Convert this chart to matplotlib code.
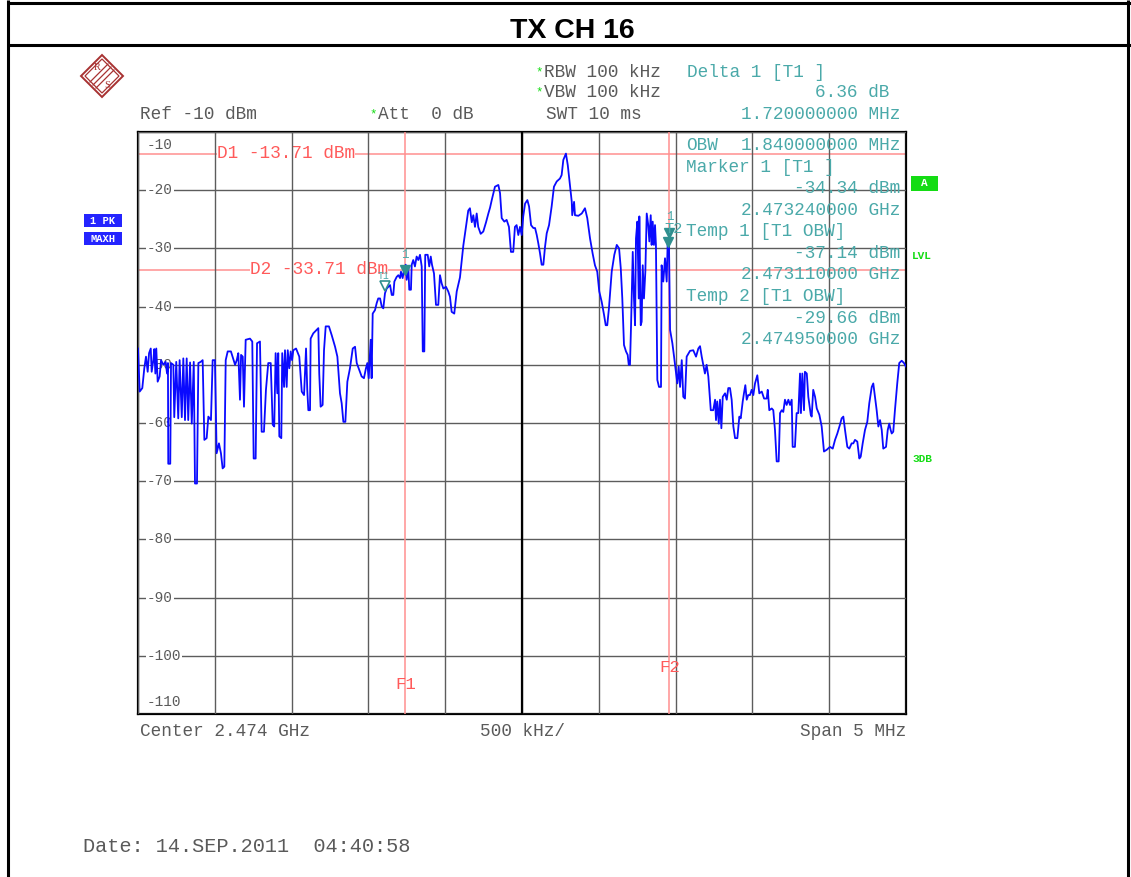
import numpy as np
import matplotlib
matplotlib.use("Agg")
import matplotlib.pyplot as plt
from matplotlib.patches import Polygon, Rectangle
import matplotlib.transforms as mtransforms

W, H = 1131, 877
MONO = ["Liberation Mono", "DejaVu Sans Mono"]
GRAY = "#5a5a5a"
CYAN = "#4aa9a9"
MARK = "#2f8f8f"
RED = "#ff5a5a"
RED_LINE = "#ff9090"
GREEN = "#14dc14"
TRACE_BLUE = "#0a0aff"

# instrument settings
CENTER_GHZ = 2.474
SPAN_MHZ = 5.0
REF_DBM = -10
RANGE_DB = 100

# max-hold trace, frequency offset from centre (MHz) and level (dBm)
trace_mhz = [
    -2.500, -2.489, -2.472, -2.459, -2.448, -2.437, -2.428, -2.417, -2.411, -2.400,
    -2.394, -2.387, -2.381, -2.372, -2.359, -2.350, -2.335, -2.320, -2.311, -2.305,
    -2.303, -2.290, -2.285, -2.270, -2.264, -2.251, -2.238, -2.229, -2.215, -2.205,
    -2.194, -2.183, -2.173, -2.161, -2.150, -2.137, -2.129, -2.116, -2.107, -2.092,
    -2.079, -2.068, -2.053, -2.042, -2.025, -2.014, -1.999, -1.988, -1.973, -1.960,
    -1.949, -1.938, -1.929, -1.916, -1.895, -1.868, -1.857, -1.847, -1.836, -1.829,
    -1.818, -1.810, -1.799, -1.771, -1.756, -1.747, -1.734, -1.725, -1.706, -1.695,
    -1.680, -1.667, -1.652, -1.636, -1.623, -1.613, -1.604, -1.593, -1.587, -1.580,
    -1.567, -1.561, -1.549, -1.543, -1.532, -1.525, -1.515, -1.506, -1.497, -1.489,
    -1.471, -1.450, -1.434, -1.419, -1.406, -1.398, -1.391, -1.380, -1.376, -1.359,
    -1.337, -1.326, -1.320, -1.311, -1.298, -1.289, -1.278, -1.257, -1.239, -1.217,
    -1.202, -1.185, -1.174, -1.163, -1.150, -1.137, -1.120, -1.102, -1.087, -1.076,
    -1.059, -1.044, -1.029, -1.016, -1.007, -0.998, -0.985, -0.979, -0.972, -0.957,
    -0.946, -0.936, -0.924, -0.913, -0.903, -0.892, -0.881, -0.870, -0.859, -0.848,
    -0.838, -0.831, -0.816, -0.805, -0.794, -0.788, -0.777, -0.768, -0.757, -0.751,
    -0.740, -0.734, -0.723, -0.718, -0.708, -0.697, -0.686, -0.675, -0.664, -0.653,
    -0.646, -0.636, -0.630, -0.614, -0.604, -0.594, -0.586, -0.573, -0.560, -0.545,
    -0.534, -0.523, -0.512, -0.495, -0.480, -0.469, -0.458, -0.441, -0.425, -0.404,
    -0.382, -0.371, -0.360, -0.350, -0.339, -0.327, -0.317, -0.306, -0.295, -0.285,
    -0.269, -0.252, -0.234, -0.219, -0.208, -0.197, -0.176, -0.154, -0.143, -0.132,
    -0.115, -0.100, -0.085, -0.072, -0.057, -0.046, -0.035, -0.024, -0.013, -0.002,
    0.008, 0.020, 0.035, 0.046, 0.059, 0.074, 0.085, 0.096, 0.106, 0.117,
    0.128, 0.139, 0.150, 0.161, 0.176, 0.193, 0.208, 0.226, 0.247, 0.258,
    0.269, 0.286, 0.298, 0.313, 0.324, 0.327, 0.339, 0.345, 0.367, 0.389,
    0.410, 0.425, 0.443, 0.460, 0.475, 0.490, 0.503, 0.519, 0.534, 0.545,
    0.555, 0.566, 0.584, 0.601, 0.617, 0.632, 0.643, 0.653, 0.664, 0.677,
    0.688, 0.695, 0.703, 0.710, 0.721, 0.729, 0.736, 0.742, 0.751, 0.760,
    0.764, 0.773, 0.779, 0.786, 0.794, 0.803, 0.812, 0.822, 0.829, 0.838,
    0.844, 0.851, 0.859, 0.866, 0.872, 0.881, 0.892, 0.905, 0.909, 0.920,
    0.931, 0.942, 0.949, 0.957, 0.964, 0.979, 0.990, 1.003, 1.011, 1.020,
    1.029, 1.040, 1.050, 1.061, 1.072, 1.094, 1.115, 1.133, 1.148, 1.159,
    1.170, 1.180, 1.191, 1.202, 1.213, 1.229, 1.245, 1.257, 1.263, 1.271,
    1.281, 1.289, 1.298, 1.307, 1.322, 1.333, 1.343, 1.354, 1.365, 1.376,
    1.387, 1.402, 1.415, 1.424, 1.437, 1.445, 1.454, 1.463, 1.473, 1.484,
    1.495, 1.506, 1.517, 1.532, 1.545, 1.561, 1.576, 1.593, 1.600, 1.610,
    1.626, 1.636, 1.647, 1.658, 1.671, 1.680, 1.691, 1.701, 1.712, 1.723,
    1.734, 1.745, 1.756, 1.762, 1.777, 1.788, 1.799, 1.810, 1.816, 1.825,
    1.836, 1.842, 1.854, 1.864, 1.880, 1.886, 1.896, 1.908, 1.919, 1.936,
    1.951, 1.966, 1.984, 2.005, 2.023, 2.038, 2.053, 2.070, 2.081, 2.092,
    2.103, 2.118, 2.131, 2.146, 2.157, 2.168, 2.183, 2.196, 2.205, 2.218,
    2.233, 2.248, 2.261, 2.277, 2.287, 2.298, 2.309, 2.320, 2.331, 2.342,
    2.352, 2.370, 2.381, 2.391, 2.400, 2.407, 2.417, 2.428, 2.443, 2.456,
    2.472, 2.487, 2.500,
]
trace_dbm = [
    -47.2, -54.6, -54.0, -50.6, -48.6, -51.2, -48.0, -47.2, -51.2, -49.2,
    -47.3, -51.5, -47.2, -52.9, -52.0, -49.2, -50.0, -49.5, -51.5, -49.7,
    -67.0, -67.0, -49.7, -50.0, -59.0, -49.5, -59.2, -49.2, -59.0, -48.9,
    -59.5, -48.9, -59.5, -49.6, -60.1, -49.5, -70.4, -70.4, -49.7, -49.5,
    -49.2, -62.9, -62.6, -58.9, -59.5, -49.2, -49.2, -65.2, -63.5, -65.2,
    -67.8, -67.5, -49.2, -47.7, -47.7, -50.0, -49.2, -48.0, -56.0, -48.3,
    -48.6, -57.2, -45.7, -45.5, -46.0, -66.1, -66.1, -46.3, -46.0, -61.5,
    -61.5, -54.3, -49.7, -49.7, -60.3, -60.6, -48.0, -54.9, -48.0, -62.3,
    -62.6, -48.0, -53.8, -47.5, -53.8, -47.5, -50.6, -47.7, -49.2, -47.5,
    -47.2, -48.6, -54.6, -55.2, -47.2, -54.3, -57.8, -57.8, -45.5, -44.6,
    -44.0, -43.7, -51.5, -57.2, -56.9, -47.5, -43.4, -43.4, -44.9, -46.9,
    -48.6, -54.9, -56.6, -59.8, -59.8, -52.9, -50.6, -47.2, -46.9, -49.7,
    -50.9, -52.0, -52.3, -50.6, -49.7, -52.3, -45.7, -52.3, -41.2, -40.6,
    -39.4, -38.6, -38.6, -40.0, -40.3, -37.7, -36.9, -36.6, -36.3, -38.0,
    -38.0, -35.7, -34.9, -34.6, -35.1, -34.0, -35.1, -33.7, -32.8, -35.4,
    -33.4, -37.1, -37.1, -32.8, -32.0, -33.1, -31.4, -32.0, -31.1, -33.1,
    -47.7, -47.7, -31.1, -31.1, -33.1, -31.4, -32.8, -34.3, -39.7, -39.7,
    -34.6, -36.0, -36.9, -36.6, -37.4, -38.3, -40.9, -41.2, -37.4, -35.0,
    -29.5, -27.5, -25.4, -23.5, -23.1, -25.5, -24.3, -26.3, -24.0, -26.3,
    -27.5, -27.1, -25.5, -24.0, -23.0, -21.7, -19.4, -19.1, -20.5, -24.8,
    -25.4, -25.1, -26.3, -30.6, -30.6, -26.3, -26.0, -27.7, -26.3, -27.7,
    -24.5, -22.3, -21.7, -22.8, -26.0, -26.5, -26.5, -27.7, -29.1, -30.8,
    -32.8, -32.8, -29.7, -27.4, -26.0, -22.8, -19.4, -18.5, -18.0, -17.4,
    -14.8, -13.71, -15.7, -19.4, -22.0, -24.3, -22.0, -24.3, -24.4, -24.0,
    -23.1, -24.8, -28.3, -30.9, -32.9, -34.0, -37.4, -39.2, -41.4, -43.2,
    -43.2, -40.3, -34.0, -31.1, -29.4, -30.0, -33.4, -38.6, -46.6, -47.7,
    -48.3, -50.0, -50.0, -43.2, -30.6, -38.6, -43.2, -28.3, -25.4, -38.6,
    -24.5, -43.2, -42.6, -32.9, -38.6, -34.0, -24.0, -26.0, -28.8, -24.3,
    -29.4, -25.4, -29.4, -26.0, -29.4, -52.6, -53.8, -53.8, -32.9, -35.7,
    -31.7, -35.7, -28.3, -29.4, -44.0, -46.3, -48.6, -51.5, -53.2, -50.3,
    -53.8, -49.2, -55.5, -55.8, -48.6, -47.6, -47.5, -48.6, -47.2, -46.8,
    -48.6, -50.0, -51.5, -50.0, -52.0, -57.8, -57.8, -56.0, -59.5, -56.3,
    -60.1, -56.0, -60.9, -55.5, -54.9, -56.0, -54.0, -54.0, -56.0, -60.6,
    -62.6, -62.6, -58.9, -59.2, -56.3, -54.9, -53.5, -56.0, -55.2, -55.2,
    -54.3, -55.2, -53.2, -51.8, -54.9, -54.6, -55.8, -55.8, -54.3, -57.8,
    -57.5, -57.8, -61.2, -66.6, -66.6, -58.3, -57.8, -58.1, -56.0, -56.9,
    -56.0, -56.9, -56.0, -64.1, -64.1, -58.3, -58.3, -51.5, -58.3, -51.5,
    -57.8, -51.2, -51.5, -55.5, -58.6, -58.9, -54.3, -55.5, -57.5, -58.6,
    -60.6, -64.9, -64.6, -64.1, -64.4, -62.9, -61.8, -60.3, -59.2, -58.9,
    -61.2, -64.1, -64.4, -63.5, -63.5, -62.9, -63.2, -66.1, -65.8, -63.5,
    -61.2, -59.8, -56.6, -53.8, -53.2, -55.5, -57.8, -60.6, -59.5, -61.2,
    -64.4, -64.1, -61.2, -60.1, -61.2, -61.8, -61.5, -57.8, -53.2, -49.7,
    -49.3, -49.7, -50.3,
]

# display lines D1/D2 and frequency lines F1/F2
d_names = ["D1", "D2"]
d_levels = [-13.71, -33.71]
f_names = ["F1", "F2"]
f_ghz = [2.47324, 2.47496]

# markers
marker_ghz, marker_dbm = 2.473240, -34.34
temp_ghz = [2.473110, 2.474950]
temp_dbm = [-37.14, -29.66]
delta_mhz, delta_db = 1.72, 6.36
obw_mhz = 1.84

def off(ghz):
    return (ghz - CENTER_GHZ) * 1000.0

fig = plt.figure(figsize=(W / 100, H / 100), dpi=100)
fig.patch.set_facecolor("white")

ax = fig.add_axes([138 / W, 1 - 714 / H, 768 / W, 582 / H])
ax.set_xlim(-SPAN_MHZ / 2, SPAN_MHZ / 2)
ax.set_ylim(REF_DBM - RANGE_DB, REF_DBM)
ax.set_xticks(np.arange(-2.5, 2.51, 0.5))
ax.set_yticks(np.arange(-110, -9, 10))
ax.tick_params(length=0, labelbottom=False, labelleft=False)
ax.set_axisbelow(False)
ax.grid(True, color="#5c5c5c", lw=1.0)
for sp in ax.spines.values():
    sp.set_linewidth(1.6)
    sp.set_color("black")
ax.axvline(0, color="black", lw=1.6, zorder=2.55)

ymix = mtransforms.blended_transform_factory(ax.transAxes, ax.transData)
xmix = mtransforms.blended_transform_factory(ax.transData, ax.transAxes)

# level scale labels
for v in range(-20, -100 - 1, -10):
    ax.text(0.0115, v, str(v), transform=ymix, ha="left", va="center", fontsize=10.4,
            family=MONO, color=GRAY, zorder=2.7,
            bbox=dict(fc="white", ec="none", pad=0.6))
ax.text(0.0115, -12.2, "-10", transform=ymix, ha="left", va="center", fontsize=10.4,
        family=MONO, color=GRAY, zorder=2.7)
ax.text(0.0115, -107.9, "-110", transform=ymix, ha="left", va="center", fontsize=10.4,
        family=MONO, color=GRAY, zorder=2.7)

# display lines
for name, lvl, xa in zip(d_names, d_levels, [0.103, 0.146]):
    ax.axhline(lvl, color=RED_LINE, lw=1.1, zorder=1)
    ax.text(xa, lvl, f"{name} {lvl:.2f} dBm", transform=ymix, ha="left", va="center",
            fontsize=12.8, family=MONO, color=RED, zorder=2,
            bbox=dict(fc="white", ec="none", pad=0.15))

# frequency lines
for name, g, ya in zip(f_names, f_ghz, [0.051, 0.08]):
    ax.axvline(off(g), color=RED_LINE, lw=1.1, zorder=2.6)
    ax.text(off(g), ya, name, transform=xmix, ha="center", va="center",
            fontsize=12.5, family=MONO, color=RED, zorder=2.65)

ax.plot(trace_mhz, trace_dbm, color=TRACE_BLUE, lw=1.3, zorder=3)

# marker symbols, tip resting on the trace point
up = mtransforms.offset_copy(ax.transData, fig=fig, x=0, y=4, units="dots")
ax.plot([off(marker_ghz)], [marker_dbm], "v", ms=7, color=MARK, transform=up, zorder=4)
ax.plot([off(temp_ghz[0])], [temp_dbm[0]], "v", ms=7, mfc="white", mec=MARK, mew=1.2,
        transform=up, zorder=4)
ax.plot([off(temp_ghz[1])], [temp_dbm[1]], "v", ms=7, color=MARK, transform=up, zorder=4)
ax.plot([off(marker_ghz) + delta_mhz], [marker_dbm + delta_db], "v", ms=7, color=MARK,
        transform=up, zorder=4)
lab = dict(ha="center", va="center", family=MONO, color=CYAN, zorder=4)
ax.annotate("1", (off(marker_ghz), marker_dbm), xytext=(0, 19), textcoords="offset pixels",
            fontsize=9, **lab)
ax.annotate("T1", (off(temp_ghz[0]), temp_dbm[0]), xytext=(-2, 14), textcoords="offset pixels",
            fontsize=7, **lab)
ax.annotate("T2", (off(temp_ghz[1]), temp_dbm[1]), xytext=(6, 17), textcoords="offset pixels",
            fontsize=11, **lab)
ax.annotate("1", (off(marker_ghz) + delta_mhz, marker_dbm + delta_db), xytext=(0, 20),
            textcoords="offset pixels", fontsize=9, **lab)

# page overlay in pixel units (y down)
ov = fig.add_axes([0, 0, 1, 1])
ov.set_xlim(0, W)
ov.set_ylim(H, 0)
ov.axis("off")

frame = dict(color="black", lw=2.2, clip_on=False, solid_capstyle="butt")
ov.plot([8, 8], [0, H], **frame)
ov.plot([1128, 1128], [0, H], **frame)
ov.plot([8, W], [3, 3], **frame)
ov.plot([8, W], [45, 45], **frame)
ov.text(572, 31, "TX CH 16", ha="center", va="center", fontsize=20.5,
        fontweight="bold", family=["Liberation Sans", "DejaVu Sans"])

# R&S logo
logo_red = "#a83232"
ov.add_patch(Polygon([(102, 55), (123, 76), (102, 97), (81, 76)], closed=True,
                     fill=False, ec=logo_red, lw=1.4))
ov.add_patch(Polygon([(102, 59), (119, 76), (102, 93), (85, 76)], closed=True,
                     fill=False, ec=logo_red, lw=0.9))
for k in (-3, 0, 3):
    ov.plot([93 + k, 111 + k], [85 + k, 67 + k], color=logo_red, lw=0.9)
ov.text(97, 67, "R", fontsize=7.5, color=logo_red, ha="center", va="center",
        family=["Liberation Serif", "DejaVu Serif"])
ov.text(107, 86, "S", fontsize=7.5, color=logo_red, ha="center", va="center",
        family=["Liberation Serif", "DejaVu Serif"])

def put(x, y, s, color=GRAY, ha="left", size=12.8, **kw):
    ov.text(x, y, s, color=color, ha=ha, va="baseline", fontsize=size, family=MONO, **kw)

# header
put(535, 75, "*", color=GREEN, size=9)
put(544, 77, "RBW 100 kHz")
put(535, 95, "*", color=GREEN, size=9)
put(544, 97, "VBW 100 kHz")
put(140, 119, f"Ref {REF_DBM} dBm")
put(369, 117, "*", color=GREEN, size=9)
put(378, 119, "Att  0 dB")
put(546, 119, "SWT 10 ms")
put(687, 77, "Delta 1 [T1 ]", color=CYAN)
put(889, 97, f"{delta_db:.2f} dB", color=CYAN, ha="right")
put(900, 119, f"{delta_mhz:.9f} MHz", color=CYAN, ha="right")

# marker readout
put(686, 150, "OBW", color=CYAN)
put(900, 150, f"{obw_mhz:.9f} MHz", color=CYAN, ha="right")
put(686, 172, "Marker 1 [T1 ]", color=CYAN)
put(900, 193, f"{marker_dbm:.2f} dBm", color=CYAN, ha="right")
put(900, 215, f"{marker_ghz:.9f} GHz", color=CYAN, ha="right")
for i, (g, lvl) in enumerate(zip(temp_ghz, temp_dbm)):
    y0 = 236 + i * 65
    put(686, y0, f"Temp {i + 1} [T1 OBW]", color=CYAN)
    put(900, y0 + 22, f"{lvl:.2f} dBm", color=CYAN, ha="right")
    put(900, y0 + 43, f"{g:.9f} GHz", color=CYAN, ha="right")

# trace / status indicators
for y0, s in ((214, "1 PK"), (232, "MAXH")):
    ov.add_patch(Rectangle((84, y0), 38, 13, fc="#2424ff", ec="none"))
    ov.text(103, y0 + 6.5, s, color="white", fontsize=7.5, fontweight="bold",
            ha="center", va="center", family=MONO)
ov.add_patch(Rectangle((911, 176), 27, 15, fc=GREEN, ec="none"))
ov.text(924.5, 183.5, "A", color="white", fontsize=8, fontweight="bold",
        ha="center", va="center", family=MONO)
ov.text(912, 256, "LVL", color=GREEN, fontsize=8, fontweight="bold", ha="left",
        va="center", family=MONO)
ov.text(912, 459, "3DB", color=GREEN, fontsize=8, fontweight="bold", ha="left",
        va="center", family=MONO)

# footer
put(140, 736, f"Center {CENTER_GHZ:.3f} GHz")
put(522, 736, f"{SPAN_MHZ / 10 * 1000:.0f} kHz/", ha="center")
put(906, 736, f"Span {SPAN_MHZ:.0f} MHz", ha="right")
put(83, 852, "Date: 14.SEP.2011  04:40:58", size=14.6)

fig.savefig("out.png", dpi=100, facecolor="white")
